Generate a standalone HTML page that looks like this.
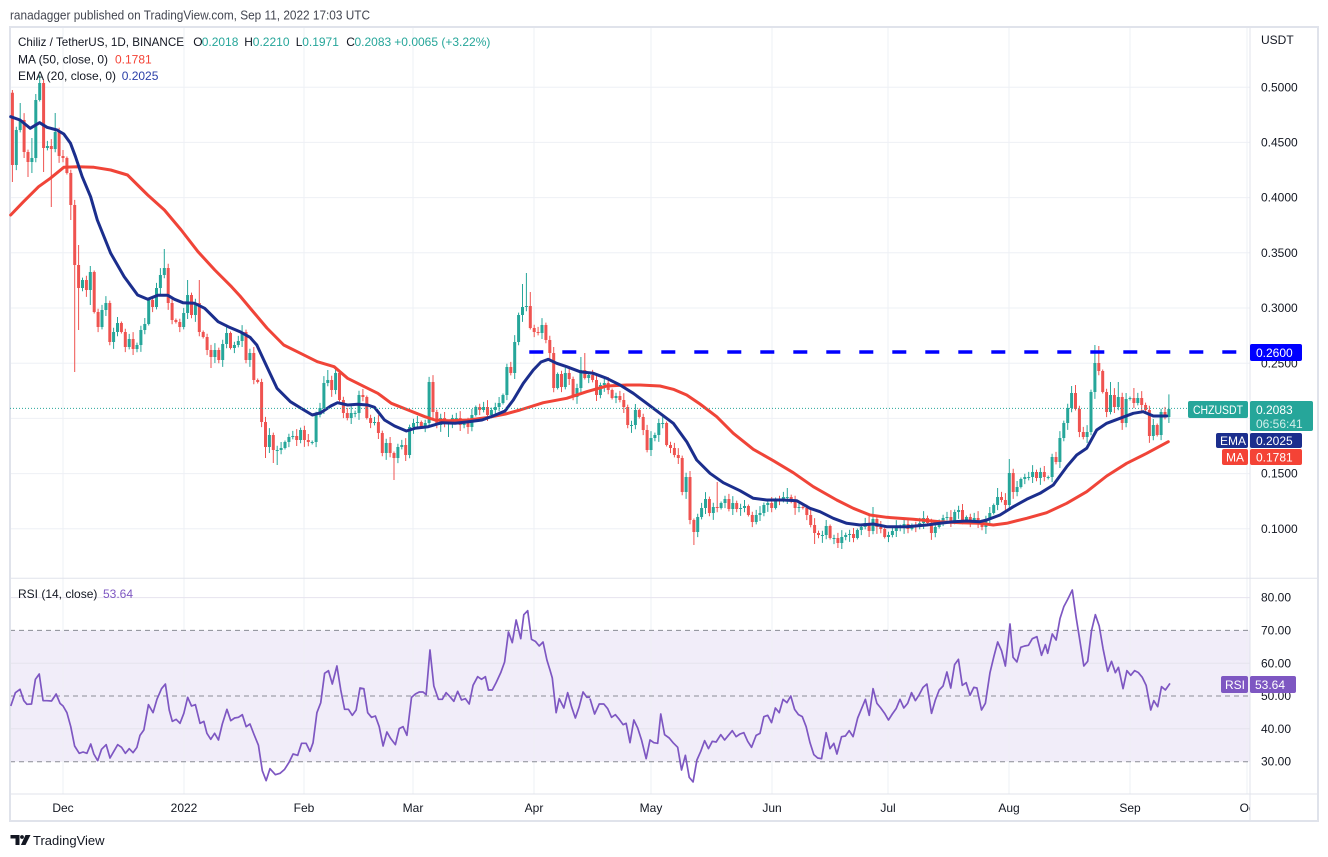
<!DOCTYPE html>
<html><head><meta charset="utf-8"><style>
html,body{margin:0;padding:0;background:#fff;overflow:hidden}
svg{display:block}
text{font-family:"Liberation Sans","DejaVu Sans",sans-serif}
</style></head><body>
<svg width="1328" height="857" viewBox="0 0 1328 857">
<defs><clipPath id="tclip"><rect x="10" y="794" width="1240" height="27"/></clipPath>
<clipPath id="pclip"><rect x="10" y="28" width="1240" height="550"/></clipPath></defs>
<rect width="1328" height="857" fill="#fff"/>
<text x="10" y="19.5" font-size="13" fill="#434651" textLength="360" lengthAdjust="spacingAndGlyphs">ranadagger published on TradingView.com, Sep 11, 2022 17:03 UTC</text>

<!-- RSI band -->
<rect x="10" y="630.4" width="1240" height="131.3" fill="#f1edf9"/>
<!-- grid -->
<g stroke="#eef0f5" stroke-width="1">
<path d="M63 28V794M184 28V794M304 28V794M413 28V794M534 28V794M651 28V794M772 28V794M888 28V794M1009 28V794M1130 28V794M1247 28V794"/>
<path d="M10 87.2H1250M10 142.4H1250M10 197.6H1250M10 252.8H1250M10 308H1250M10 363.2H1250M10 418.4H1250M10 473.6H1250M10 528.8H1250"/>
<path d="M10 597.6H1250M10 663.2H1250M10 728.8H1250" stroke="#e6e3ee"/>
</g>
<g stroke="#8a8d96" stroke-width="1" stroke-dasharray="5 4">
<path d="M10 630.4H1250M10 696H1250M10 761.7H1250"/>
</g>
<!-- frame & separators -->
<rect x="10" y="27" width="1308" height="794" fill="none" stroke="#e0e3eb" stroke-width="2"/>
<path d="M10 578.3H1318M10 794H1318M1250 28V821" stroke="#e0e3eb" stroke-width="1"/>

<!-- candles -->
<g clip-path="url(#pclip)">
<path id="gw" fill="none" stroke="#26a69a" stroke-width="1"/>
<path id="gb" fill="none" stroke="#26a69a" stroke-width="3"/>
<path id="rw" fill="none" stroke="#ef5350" stroke-width="1"/>
<path id="rb" fill="none" stroke="#ef5350" stroke-width="3"/>
</g>

<!-- MA 50 -->
<polyline fill="none" stroke="#f04438" stroke-width="3" stroke-linejoin="round" stroke-linecap="round" points="10.7,215 23.5,201.7 38.6,186.7 50.3,178.3 63.8,167.3 77.2,166.7 94,167.3 110.7,170 127.5,175 137.6,185 147.7,195 164.4,210 181.2,230 198,251.7 214.8,270 231.5,286.7 240,296 253.4,312 266.9,328 283.7,345 300.5,353.3 317.3,361.7 334.1,366.7 347.6,378.3 364.4,386.7 377.8,393.3 391.3,403.3 408.1,410 424.9,416.7 435,420 448.4,420.7 468.6,420 488.7,417.3 505.5,414 520,410 543.3,402.7 566.7,398.3 586.7,391.7 606.7,386 626.7,385 640,385 660,386 673.3,389.3 686.7,395 700,404 716.7,416.7 733.3,433.3 753.3,449.3 773.3,460.7 793.3,472.7 813.3,486.7 836.7,500 853.3,508.3 870,515 886.7,517.3 913.3,519.3 940,521.7 960,522.7 980,523.3 993.3,525 1006.7,523.3 1026.7,518.3 1046.7,512.7 1066.7,503.3 1086.7,491.7 1106.7,476 1126.7,463.3 1146.7,453.3 1168.3,441.7"/>
<!-- EMA 20 -->
<polyline fill="none" stroke="#1b2e8d" stroke-width="3" stroke-linejoin="round" stroke-linecap="round" points="10.7,116.7 20,120 30.2,128.3 39.6,122.7 47,127.3 57,130 63.8,134 70.5,143.3 75.5,156.7 82.2,176.7 90.6,196.7 97.3,220 110.7,253.3 124.2,276.7 137.6,295 147.7,299.3 157.7,295.3 167.8,295.3 174.5,299.3 182.9,302.7 194.6,303.3 204.7,308.3 218.1,321.7 228.2,326.7 240,331.7 250,337.3 256.8,345 266.9,366.7 277,388.3 290.4,401.7 303.9,410 312.3,415 320.7,412.7 330.8,406 337.5,402.7 347.6,405 357.6,404.3 367.7,405 374.5,407.3 384.5,420 394.6,426 406.4,431 414.8,428.3 428.2,426.7 441.7,422.7 455.1,423.3 468.6,421.7 482,420 495.5,415 505,411 513.3,400 523.3,383.3 533.3,370 541,362 548.3,359.3 556.7,363.3 566.7,366.7 580,371.7 593.3,373.3 606.7,378.3 620,385 633.3,393.3 646.7,403.3 660,413.3 673.3,423.3 686.7,441.7 696.7,460 710,473.3 723.3,482.7 740,490.7 753.3,498.3 766.7,500 783.3,500 796.7,500.7 810,508.3 820,511.7 833.3,518.3 846.7,523.3 860,525 873.3,524 886.7,526.7 906.7,526.7 926.7,525 940,523.3 953.3,521.7 966.7,521 980,521.7 986.7,520 1000,515 1013.3,506.7 1026.7,499.3 1040,493.3 1053.3,485 1066.7,466.7 1076.7,455 1086.7,448.3 1096.7,430 1106.7,423.3 1120,418.3 1133.3,413.3 1143.3,411.7 1153.3,416 1166.7,416"/>

<!-- current price dotted -->
<line x1="10" y1="408.4" x2="1188" y2="408.4" stroke="#26a69a" stroke-width="1" stroke-dasharray="1 2"/>
<!-- 0.26 level -->
<line x1="529.3" y1="352" x2="1240" y2="352" stroke="#0000ff" stroke-width="3.5" stroke-dasharray="14 19"/>

<!-- RSI line -->
<g fill="none" stroke="#7e57c2" stroke-width="1.7" stroke-linejoin="round">
<polyline vector-effect="non-scaling-stroke" transform="translate(0,580) scale(0.3846,0.33333)" points="28,378 40,338 52,328 62,362 70,373 82,372 92,298 102,282 112,362 122,362 134,363 146,342 156,370 164,378 174,398 184,440 194,498 206,520 216,516 226,520 236,492 244,522 254,542 264,508 276,494 286,534 296,514 306,494 316,502 326,520 336,506 346,518 356,502 364,466 374,450 386,374 398,398 408,358 420,326 430,312 440,390 448,424 458,418 468,430 478,400 488,352 498,378 508,374 520,430 530,424 538,460 548,478 558,460 568,480 578,432 590,388 600,422 610,414 620,412 630,404 640,440 650,432 660,462 672,496 682,572 692,602 702,566 716,584 728,580 740,568 752,546 762,522 774,526 784,490 796,490 806,514 814,488 824,398 834,368 844,280 854,272 864,312 876,258 886,330 896,388 906,388 916,406 926,390 936,324 946,326 956,398 966,412 976,408 986,440 996,498 1006,456 1016,476 1028,494 1038,446 1048,440 1058,466 1070,352 1080,342 1090,336 1100,336 1108,344 1118,210 1128,318 1140,358 1150,358 1160,338 1170,350 1180,364 1190,334 1200,360 1210,356 1220,372 1230,316 1242,290 1252,298 1262,290 1270,330 1280,330 1290,308 1302,278 1312,246 1322,156 1332,188 1342,120 1354,176 1362,104 1372,92 1382,178 1392,184 1402,198 1412,186 1422,240 1430,270 1436,294 1446,398 1454,356 1466,384 1476,338 1486,380 1496,414 1506,380 1516,336 1526,352 1534,352"/>
<polyline vector-effect="non-scaling-stroke" transform="translate(590,580) scale(0.3846,0.33333)" points="0,356 12,402 24,372 36,372 46,386 56,412 66,404 76,418 86,434 94,430 104,488 114,420 124,444 134,480 146,536 156,480 166,488 176,490 184,402 194,464 206,474 216,488 228,502 238,570 248,526 258,592 268,606 278,540 288,514 298,482 308,506 318,484 328,486 340,464 350,480 360,466 370,452 380,470 390,462 400,458 410,484 420,502 432,466 442,460 452,410 462,406 472,428 482,384 492,398 502,358 512,368 522,348 532,388 542,404 552,410 562,440 572,488 582,524 592,534 602,536 614,458 624,506 634,490 642,522 654,470 664,468 674,452 684,470 696,414 706,386 716,358 726,406 736,326 746,370 756,384 766,400 776,420 786,402 796,386 806,358 816,384 826,370 836,338 846,362 856,344 866,322 876,312 888,400 898,360 908,330 918,318 928,276 938,324 948,254 958,238 968,316 978,308 988,346 998,322 1006,324 1018,390 1028,370 1040,278 1050,230 1060,186 1070,212 1080,258 1092,132 1100,232 1110,246 1120,202 1130,198 1140,196 1150,176 1162,170 1174,226 1184,194 1190,220 1202,162 1212,180 1222,116 1232,80 1242,58 1254,30 1264,112 1274,184 1284,258 1294,244 1304,152 1314,104 1324,138 1334,206 1346,274 1356,244 1366,278 1374,262 1386,326 1396,272 1406,286 1416,272 1426,278 1436,292 1446,316 1458,390 1466,362 1476,380 1486,320 1496,330 1508,310"/>
</g>

<!-- legend -->
<g font-size="12" fill="#131722">
<text x="18" y="46" textLength="166" lengthAdjust="spacingAndGlyphs">Chiliz / TetherUS, 1D, BINANCE</text>
<text x="193.3" y="46">O</text><text x="201.7" y="46" fill="#26a69a">0.2018</text>
<text x="244.3" y="46">H</text><text x="252.8" y="46" fill="#26a69a">0.2210</text>
<text x="295.7" y="46">L</text><text x="302.2" y="46" fill="#26a69a">0.1971</text>
<text x="346.2" y="46">C</text><text x="354.5" y="46" fill="#26a69a">0.2083</text>
<text x="394.3" y="46" fill="#26a69a">+0.0065 (+3.22%)</text>
<text x="18" y="63.5">MA (50, close, 0)</text><text x="115" y="63.5" fill="#f44336">0.1781</text>
<text x="18" y="80">EMA (20, close, 0)</text><text x="121.7" y="80" fill="#2b3fa8">0.2025</text>
<text x="18" y="598">RSI (14, close)</text><text x="103" y="598" fill="#7e57c2">53.64</text>
</g>

<!-- price axis labels -->
<g font-size="12" fill="#131722">
<text x="1261" y="44">USDT</text>
<text x="1261" y="91.3">0.5000</text>
<text x="1261" y="146.5">0.4500</text>
<text x="1261" y="201.7">0.4000</text>
<text x="1261" y="256.9">0.3500</text>
<text x="1261" y="312.1">0.3000</text>
<text x="1261" y="367.3">0.2500</text>
<text x="1261" y="477.7">0.1500</text>
<text x="1261" y="532.9">0.1000</text>
<text x="1261" y="601.7">80.00</text>
<text x="1261" y="634.5">70.00</text>
<text x="1261" y="667.3">60.00</text>
<text x="1261" y="700.1">50.00</text>
<text x="1261" y="732.9">40.00</text>
<text x="1261" y="765.7">30.00</text>
</g>

<!-- axis badges -->
<g font-size="12" fill="#fff">
<rect x="1250" y="344" width="52" height="17" rx="2" fill="#0000ff"/>
<text x="1256" y="357">0.2600</text>
<rect x="1188" y="401" width="60" height="17" rx="2" fill="#26a69a"/>
<text x="1193" y="414" font-size="11.5" textLength="50" lengthAdjust="spacingAndGlyphs">CHZUSDT</text>
<rect x="1250" y="401" width="63" height="30" rx="2" fill="#26a69a"/>
<text x="1256" y="414">0.2083</text>
<text x="1256" y="428" fill="#d2efeb">06:56:41</text>
<rect x="1216" y="433" width="32" height="15" rx="2" fill="#1b2e8d"/>
<text x="1220" y="445">EMA</text>
<rect x="1250" y="433" width="52" height="15" rx="2" fill="#1b2e8d"/>
<text x="1256" y="445">0.2025</text>
<rect x="1222" y="449" width="26" height="16" rx="2" fill="#f44336"/>
<text x="1226" y="461.5">MA</text>
<rect x="1250" y="449" width="52" height="16" rx="2" fill="#f44336"/>
<text x="1256" y="461.5">0.1781</text>
<rect x="1221" y="676" width="27" height="17" rx="2" fill="#7e57c2"/>
<text x="1225" y="689">RSI</text>
<rect x="1250" y="676" width="46" height="17" rx="2" fill="#7e57c2"/>
<text x="1255" y="689">53.64</text>
</g>

<!-- time axis -->
<g font-size="12" fill="#131722" text-anchor="middle" clip-path="url(#tclip)">
<text x="63" y="812">Dec</text>
<text x="184" y="812">2022</text>
<text x="304" y="812">Feb</text>
<text x="413" y="812">Mar</text>
<text x="534" y="812">Apr</text>
<text x="651" y="812">May</text>
<text x="772" y="812">Jun</text>
<text x="888" y="812">Jul</text>
<text x="1009" y="812">Aug</text>
<text x="1130" y="812">Sep</text>
<text x="1249" y="812">Oct</text>
</g>

<!-- logo -->
<g fill="#131722">
<path d="M10.5 835h9v10h-4v-6.5h-5z"/>
<circle cx="22" cy="837" r="1.9"/>
<path d="M25.5 835h5l-5 10h-4.6z"/>
</g>
<text x="33" y="845" font-size="13" fill="#131722">TradingView</text>
</svg>
<script>
(function(){
var C=[165,130,120,152,162,158,100,83,148,146,
149,132,156,158,173,205,265,288,280,290,
272,312,327,310,303,342,332,323,332,347,
339,349,345,330,324,300,307,288,275,268,
303,320,322,327,313,295,315,303,332,337,
350,357,350,360,344,333,348,345,341,332,
360,353,380,382,422,447,435,450,450,448,
442,437,436,440,430,440,442,442,415,408,
383,380,390,373,400,413,418,413,413,395,
397,418,423,422,433,453,443,453,458,447,
445,455,427,423,422,427,423,382,412,425,
418,423,423,418,418,425,422,427,415,407,
410,407,415,410,407,403,395,367,373,342,
315,307,306,328,332,333,325,340,353,388,
374,387,373,379,397,388,370,378,375,380,
395,385,383,390,398,396,400,407,425,425,
410,417,430,450,438,435,423,423,445,448,
455,458,492,477,520,532,517,508,499,513,
507,508,503,499,509,503,509,508,506,515,
522,515,513,505,503,508,499,500,497,497,
500,508,507,508,515,525,533,535,535,526,
538,538,543,537,535,534,538,530,527,523,
531,519,527,529,537,535,531,527,527,524,
529,525,527,523,518,523,533,527,521,518,
517,521,512,510,520,517,522,518,522,527,
520,513,505,497,500,505,473,492,487,479,
477,477,472,478,472,477,477,457,462,438,
423,408,393,409,432,437,432,392,363,371,
392,412,395,407,397,423,399,398,403,398,
405,410,436,425,435,412,417,409];
var OV={0:[90,182],1:[0,170],2:[103,0],4:[0,177],5:[138,173],7:[75,0],8:[0,172],10:[0,207],11:[113,0],15:[0,220],16:[0,372],17:[245,330],20:[0,305],39:[249,0],45:[280,0],48:[280,0],51:[0,368],64:[0,427],65:[0,458],67:[0,463],68:[0,465],81:[370,0],98:[0,480],107:[378,0],112:[0,437],131:[284,0],132:[273,0],133:[292,0],136:[320,0],146:[357,0],147:[353,0],175:[0,545],181:[482,0],199:[488,0],206:[0,544],212:[0,548],221:[507,0],243:[506,0],244:[506,0],253:[488,0],256:[459,0],272:[386,0],273:[385,0],278:[345,0],279:[346,0],282:[382,0],284:[382,0],288:[388,0],297:[394.4,421]};
var g='',r='',gw='',rw='';
for(var i=0;i<C.length;i++){
 var x=12.4+3.894*i,o=i?C[i-1]:92.7,c=C[i];
 var t=Math.min(o,c),b=Math.max(o,c);
 if(b-t<1){b=t+1;}
 var h=t-(1.5+((i*37)%7)*0.9),l=b+(1.5+((i*53)%7)*0.9);
 var ov=OV[i];
 if(ov){if(ov[0])h=Math.min(h,ov[0]);if(ov[1])l=Math.max(l,ov[1]);}
 var xs=x.toFixed(1);
 var wk='M'+xs+' '+h.toFixed(1)+'V'+l.toFixed(1);
 var bd='M'+xs+' '+t.toFixed(1)+'V'+b.toFixed(1);
 if(c<=o){gw+=wk;g+=bd;}else{rw+=wk;r+=bd;}
}
document.getElementById('gw').setAttribute('d',gw);
document.getElementById('gb').setAttribute('d',g);
document.getElementById('rw').setAttribute('d',rw);
document.getElementById('rb').setAttribute('d',r);
})();
</script>
</body></html>
